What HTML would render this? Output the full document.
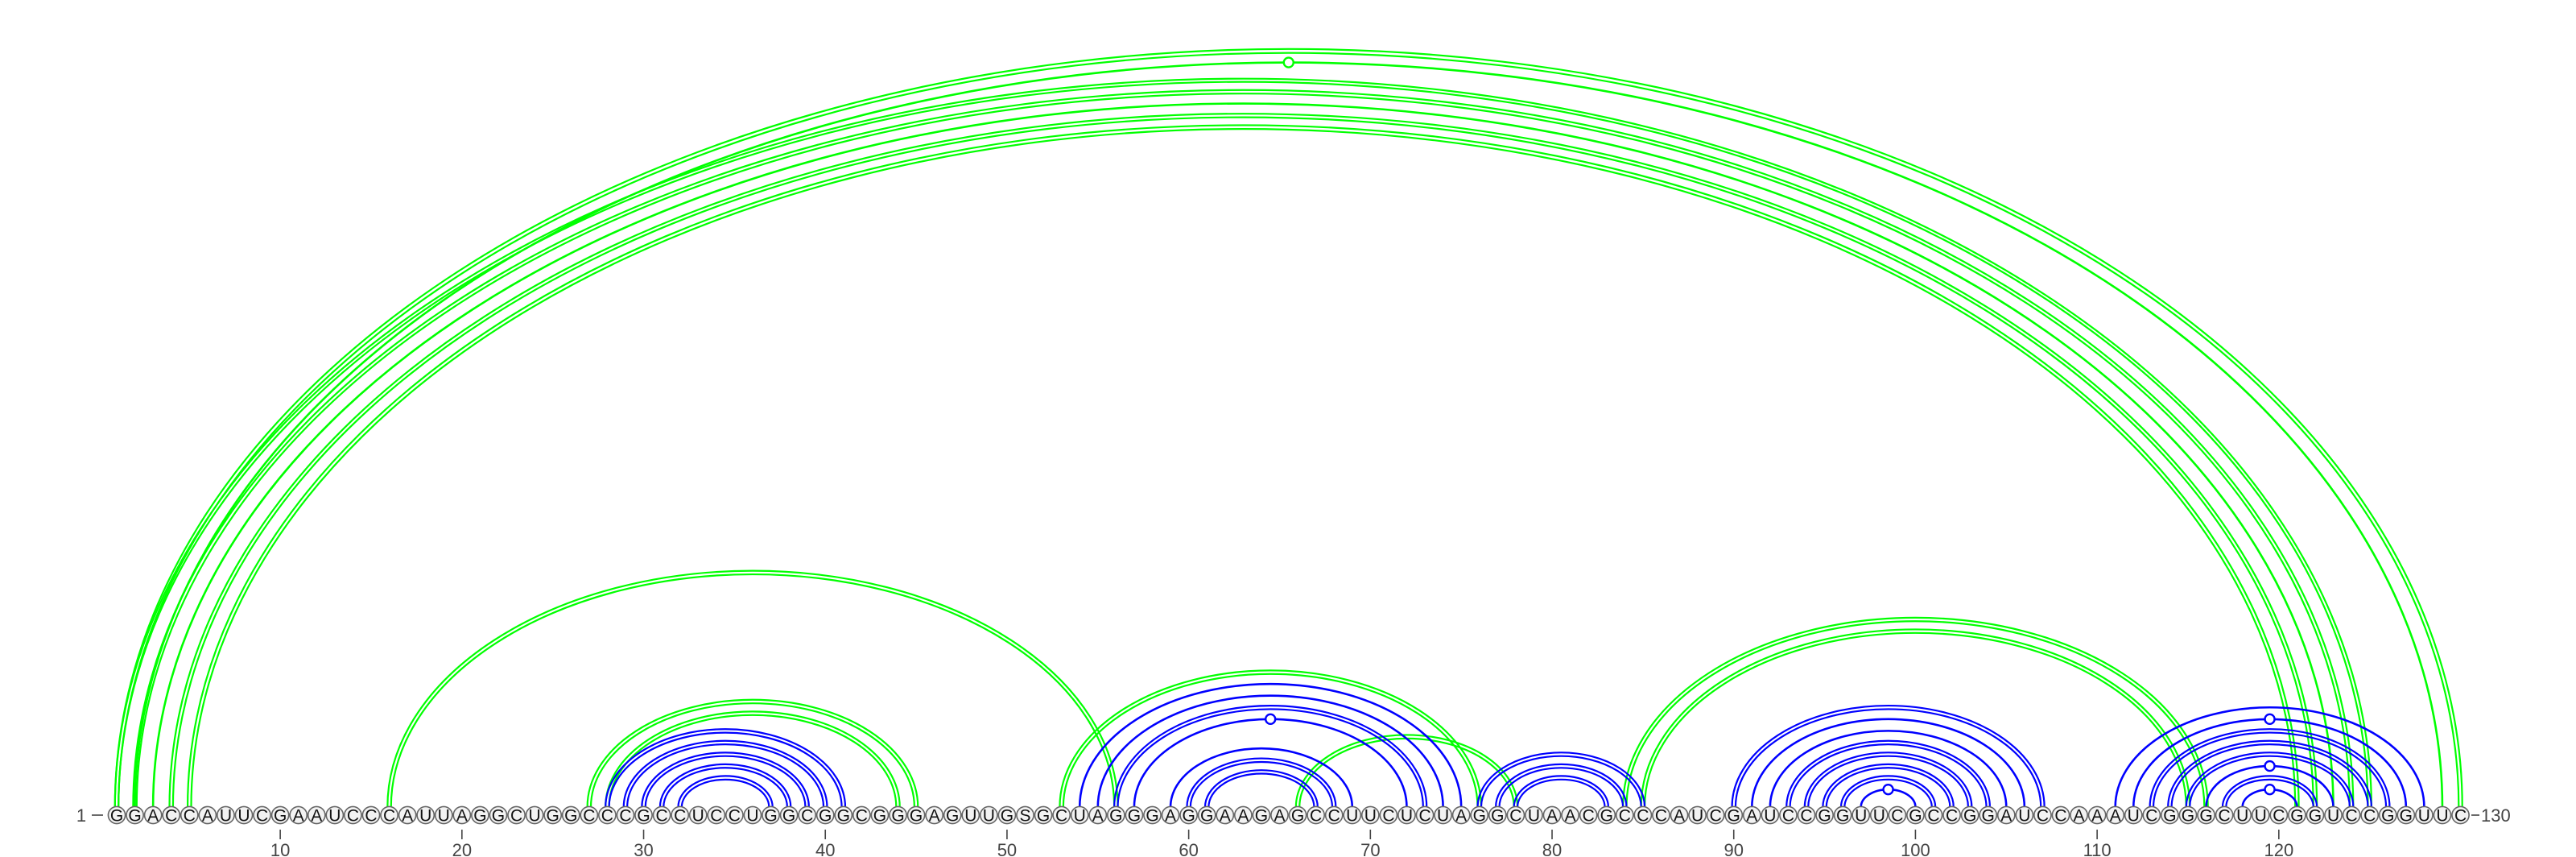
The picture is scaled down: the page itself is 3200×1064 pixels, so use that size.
<!DOCTYPE html>
<html><head><meta charset="utf-8"><style>
html,body{margin:0;padding:0;background:#fff;}
svg{display:block;}
text{font-family:"Liberation Sans",sans-serif;}
</style></head><body>
<svg id="chart" width="3200" height="1064" viewBox="0 0 3200 1064" xmlns="http://www.w3.org/2000/svg">
<g id="arcs"></g>
<g id="nts"></g>
<g id="axis"></g>
</svg>
<script>
const sequence = "GGACCAUUCGAAUCCCAUUAGGCUGGCCCGCCUCCUGGCGGCGGGAGUUGSGCUAGGGAGGAAGAGCCUUCUCUAGGCUAACGCCCAUCGAUCCGGUUCGCCGGAUCCAAAUCGGGCUUCGGUCCGGUUC";
const tickPositions = [10,20,30,40,50,60,70,80,90,100,110,120];
const pairStart = [1,2,1,2,3,4,5,16,27,28,53,66,84,85,
  28,29,30,31,32, 54,55,56,57,59,60,61, 76,77,78,
  90,91,92,93,94,95,96,97, 111,112,113,114,115,116,117,118];
const pairEnd = [130,129,125,124,123,122,121,56,45,44,76,78,116,115,
  41,40,39,38,37, 75,74,73,72,69,68,67, 85,84,83,
  107,106,105,104,103,102,101,100, 128,127,126,125,124,123,122,121];
const pairColor = ["g","g","g","g","g","g","g","g","g","g","g","g","g","g",
  "b","b","b","b","b", "b","b","b","b","b","b","b", "b","b","b",
  "b","b","b","b","b","b","b","b", "b","b","b","b","b","b","b","b"];
const pairDouble = [1,0,1,1,0,1,1,1,1,1,1,1,1,1,
  1,1,1,1,1, 0,0,1,0,0,1,1, 1,1,1,
  1,0,0,1,1,1,1,0, 0,0,1,1,1,0,1,0];
const pairMarker = [0,1,0,0,0,0,0,0,0,0,0,0,0,0,
  0,0,0,0,0, 0,0,0,1,0,0,0, 0,0,0,
  0,0,0,0,0,0,0,1, 0,1,0,0,0,1,0,1];

const NS="http://www.w3.org/2000/svg";
const X0=145, DX=22.57, BASE=1002, RATIO=0.645, CY=1012;
function xPos(i){return X0+(i-1)*DX;}
function mk(tag,attrs,parent){const e=document.createElementNS(NS,tag);for(const k in attrs)e.setAttribute(k,attrs[k]);parent.appendChild(e);return e;}
const arcsG=document.getElementById('arcs');
const colors={g:"#00ff00",b:"#0000ff"};
for(let k=0;k<pairStart.length;k++){
  const x1=xPos(pairStart[k]), x2=xPos(pairEnd[k]);
  const cx=(x1+x2)/2, rx=(x2-x1)/2, ry=rx*RATIO;
  const offs=pairDouble[k]?[-2.2,2.2]:[0];
  const col=colors[pairColor[k]];
  const g=mk('g',{},arcsG);
  
  
  offs.forEach(o=>{
    const r=rx+o, rr=ry+o;
    const p=mk('path',{d:`M${cx-r},${BASE} A${r},${rr} 0 0 1 ${cx+r},${BASE}`,fill:"none",stroke:col,"stroke-width":pairDouble[k]?2.2:2.6},g);
    
    
  });
  if(pairMarker[k]){
    const c=mk('circle',{cx:cx,cy:BASE-ry,r:6,fill:"#fff",stroke:col,"stroke-width":2.4},g);
    
    
  }
}
const ntG=document.getElementById('nts');
for(let i=1;i<=sequence.length;i++){
  const g=mk('g',{},ntG);
  
  
  mk('circle',{cx:xPos(i),cy:CY,r:10.6,fill:"#f2f2f2",stroke:"#666","stroke-width":1.6},g);
  const t=mk('text',{x:xPos(i),y:CY+7.5,"text-anchor":"middle","font-size":21,fill:"#111"},g);
  t.textContent=sequence[i-1];
}
const ax=document.getElementById('axis');
tickPositions.forEach(p=>{
  const l=mk('line',{x1:xPos(p),x2:xPos(p),y1:1030,y2:1042,stroke:"#444","stroke-width":1.6},ax);
  
  
  const t=mk('text',{x:xPos(p),y:1063,"text-anchor":"middle","font-size":22,fill:"#444"},ax);
  
  
  t.textContent=p;
});
const s=mk('text',{x:101,y:1020,"text-anchor":"middle","font-size":22,fill:"#444"},ax);


s.textContent="1";
const sd=mk('line',{x1:114,x2:128,y1:1012,y2:1012,stroke:"#444","stroke-width":1.6},ax);


const ed=mk('line',{x1:3070,x2:3080,y1:1012,y2:1012,stroke:"#444","stroke-width":1.6},ax);


const e=mk('text',{x:3082,y:1020,"font-size":22,fill:"#444"},ax);


e.textContent="130";
</script>
</body></html>
